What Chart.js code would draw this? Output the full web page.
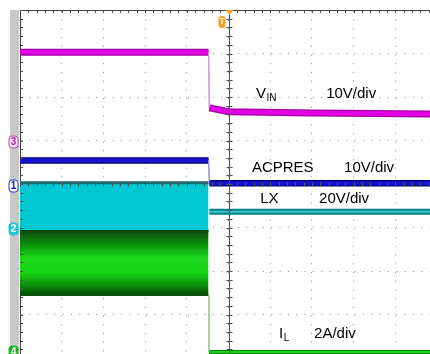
<!DOCTYPE html>
<html>
<head>
<meta charset="utf-8">
<script src="https://cdn.jsdelivr.net/npm/chart.js@4.4.0/dist/chart.umd.min.js"></script>
<style>
  html, body { margin: 0; padding: 0; background: #fff; }
  canvas { display: block; }
</style>
</head>
<body>
<canvas id="scope" width="430" height="354"></canvas>
<script>
// scope screen, all values in divisions measured from the centre of the graticule
var xTicks = [0, 1, 2, 3, 4, 5, 6, 7, 8, 9];
var yTicks = [-3, -2, -1, 0, 1, 2, 3, 4];

var vinTime  = [0, 4.52, 4.54, 5.0, 7.0, 9.83];
var vinLevel = [3.03, 3.03, 1.75, 1.66, 1.63, 1.61];

var acpresTime  = [0, 4.52, 4.54, 9.83];
var acpresLevel = [0.54, 0.54, 0.02, 0.02];

var lxOnTime   = [0, 4.52];
var lxTop      = [0.03, 0.03];
var lxBottom   = [-1.06, -1.06];
var lxOffTime  = [4.54, 9.83];
var lxOffLevel = [-0.64, -0.64];

var ilOnTime   = [0, 4.52];
var ilTop      = [-1.08, -1.08];
var ilBottom   = [-2.55, -2.55];
var ilOffTime  = [4.53, 4.53, 9.83];
var ilOffLevel = [-2.55, -3.86, -3.86];

var traceNames = ['V', 'ACPRES', 'LX', 'I'];
var traceSubs  = ['IN', '', '', 'L'];
var scaleTexts = ['10V/div', '10V/div', '20V/div', '2A/div'];

var channelIds    = ['3', '1', '2', '4'];
var channelGround = [0.97, -0.05, -1.03, -3.86];

function pts(t, v) {
  return t.map(function (x, i) { return {x: x, y: v[i]}; });
}

// the fast edges are drawn thin and pale, like on the scope
function stepSeg(width, color) {
  return {
    borderWidth: function (ctx) {
      return Math.abs(ctx.p1.parsed.x - ctx.p0.parsed.x) < 0.05 ? 1.2 : width;
    },
    borderColor: function (ctx) {
      return Math.abs(ctx.p1.parsed.x - ctx.p0.parsed.x) < 0.05 ? color : undefined;
    }
  };
}

function trace(data, color, width, stepColor) {
  return {
    data: data,
    showLine: true,
    borderColor: color,
    borderWidth: width,
    pointRadius: 0,
    fill: false,
    segment: stepSeg(width, stepColor)
  };
}

function ilGradient(ctx) {
  var chart = ctx.chart;
  if (!chart.chartArea) return '#10c010';
  var sy = chart.scales.y;
  var y0 = sy.getPixelForValue(ilTop[0]);
  var y1 = sy.getPixelForValue(ilBottom[0]);
  var g = chart.ctx.createLinearGradient(0, y0, 0, y1);
  g.addColorStop(0, '#0a4f0a');
  g.addColorStop(0.25, '#0a9c0a');
  g.addColorStop(0.42, '#1cd81c');
  g.addColorStop(0.65, '#16d416');
  g.addColorStop(0.86, '#0a8a0a');
  g.addColorStop(1, '#064a06');
  return g;
}

var scopeDecor = {
  id: 'scopeDecor',
  beforeDraw: function (chart) {
    var c = chart.ctx, a = chart.chartArea;
    c.save();
    c.fillStyle = '#c8c8c8';
    c.fillRect(a.left - 10, a.top, 9, a.bottom - a.top);
    c.restore();
  },
  afterDatasetsDraw: function (chart) {
    var c = chart.ctx, a = chart.chartArea;
    var sx = chart.scales.x, sy = chart.scales.y;
    var k, p;
    c.save();
    c.strokeStyle = '#505050';
    c.lineWidth = 1;
    c.beginPath();
    // ticks on the top and left border
    for (k = 0; k <= 50; k++) {
      p = Math.round(sx.getPixelForValue(k / 5)) + 0.5;
      if (p > a.right) break;
      c.moveTo(p, a.top); c.lineTo(p, a.top + 3);
    }
    for (k = 0; k <= 40; k++) {
      p = Math.round(sy.getPixelForValue(4 - k / 5)) + 0.5;
      if (p > a.bottom) break;
      c.moveTo(a.left, p); c.lineTo(a.left + 3, p);
    }
    // centre crosshair
    var cx = Math.round(sx.getPixelForValue(5)) + 0.5;
    var cy = Math.round(sy.getPixelForValue(0)) + 0.5;
    c.moveTo(cx, a.top); c.lineTo(cx, a.bottom);
    for (k = 0; k <= 40; k++) {
      p = Math.round(sy.getPixelForValue(4 - k / 5)) + 0.5;
      if (p > a.bottom) break;
      c.moveTo(cx - 3, p); c.lineTo(cx + 3, p);
    }
    for (k = 0; k <= 50; k++) {
      p = Math.round(sx.getPixelForValue(k / 5)) + 0.5;
      if (p > a.right) break;
      c.moveTo(p, cy - 2); c.lineTo(p, cy + 2);
    }
    c.stroke();
    c.restore();
  },
  afterDraw: function (chart) {
    var c = chart.ctx, a = chart.chartArea;
    var sx = chart.scales.x, sy = chart.scales.y;
    var o = chart.options.plugins.scopeDecor;
    c.save();

    // trace labels
    c.fillStyle = '#000';
    c.textBaseline = 'alphabetic';
    o.labels.forEach(function (l, i) {
      var x = sx.getPixelForValue(l.x), y = sy.getPixelForValue(l.y);
      c.font = '15px "Liberation Sans", Arial, sans-serif';
      c.fillText(traceNames[i], x, y);
      var w = c.measureText(traceNames[i]).width;
      if (traceSubs[i]) {
        c.font = '10px "Liberation Sans", Arial, sans-serif';
        c.fillText(traceSubs[i], x + w + 0.5, y + 3);
      }
      c.font = '15px "Liberation Sans", Arial, sans-serif';
      c.fillText(scaleTexts[i], sx.getPixelForValue(l.sx), y);
    });

    // channel ground markers on the left edge
    c.font = 'bold 10px "Liberation Sans", Arial, sans-serif';
    c.textAlign = 'center';
    c.textBaseline = 'middle';
    o.markers.forEach(function (m, i) {
      var y = Math.round(sy.getPixelForValue(channelGround[i]));
      var x = a.left - 11;
      c.beginPath();
      c.roundRect(x, y - 6, 9, 12, 3);
      c.fillStyle = m.fill;
      c.fill();
      c.strokeStyle = m.color;
      c.lineWidth = 1;
      c.stroke();
      c.fillStyle = m.text;
      c.fillText(channelIds[i], x + 4.5, y + 0.5);
    });

    // trigger position
    var tx = Math.round(sx.getPixelForValue(5)) + 0.5;
    c.fillStyle = '#f2a027';
    c.beginPath();
    c.moveTo(tx - 4, a.top);
    c.lineTo(tx + 4, a.top);
    c.lineTo(tx, a.top + 5);
    c.closePath();
    c.fill();
    c.beginPath();
    c.roundRect(tx - 11, a.top + 6, 7, 12, 3);
    c.fill();
    c.fillStyle = '#fff2c8';
    c.font = 'bold 9px "Liberation Sans", Arial, sans-serif';
    c.fillText('T', tx - 7.5, a.top + 12);
    c.restore();
  }
};

new Chart(document.getElementById('scope'), {
  type: 'scatter',
  data: {
    datasets: [
      trace(pts(vinTime, vinLevel), '#e400e4', 4.5, '#d996d9'),
      trace(pts(vinTime, vinLevel), '#a400a4', 7, '#d996d9'),
      trace(pts(acpresTime, acpresLevel), '#1414cc', 4, '#9a9ad8'),
      trace(pts(acpresTime, acpresLevel), '#000080', 6.5, '#9a9ad8'),
      trace(pts(lxOffTime, lxOffLevel), '#36c6cc', 2, '#36c6cc'),
      trace(pts(lxOffTime, lxOffLevel), '#00828a', 6, '#00828a'),
      {
        data: pts(lxOnTime, lxTop), showLine: true, pointRadius: 0,
        borderColor: '#1a6c6c', borderWidth: 3,
        backgroundColor: '#00c9d3', fill: '+1'
      },
      {
        data: pts(lxOnTime, lxBottom), showLine: true, pointRadius: 0,
        borderColor: '#00c9d3', borderWidth: 0, fill: false
      },
      trace(pts(ilOffTime, ilOffLevel), '#1ad41a', 2, '#9cc89c'),
      trace(pts(ilOffTime, ilOffLevel), '#0a800a', 4, '#9cc89c'),
      {
        data: pts(ilOnTime, ilTop), showLine: true, pointRadius: 0,
        borderColor: '#0c4a0c', borderWidth: 3,
        backgroundColor: ilGradient, fill: '+1'
      },
      {
        data: pts(ilOnTime, ilBottom), showLine: true, pointRadius: 0,
        borderColor: '#0a4e0a', borderWidth: 2, fill: false
      }
    ]
  },
  options: {
    responsive: false,
    devicePixelRatio: 1,
    animation: false,
    events: [],
    layout: { padding: { left: 20, top: 10, right: 0, bottom: 0 } },
    plugins: {
      legend: { display: false },
      tooltip: { enabled: false },
      scopeDecor: {
        labels: [
          { x: 5.66, sx: 7.34, y: 1.977 },
          { x: 5.56, sx: 7.77, y: 0.276 },
          { x: 5.76, sx: 7.17, y: -0.437 },
          { x: 6.21, sx: 7.05, y: -3.54 }
        ],
        markers: [
          { color: '#c040c0', fill: '#f4e4f4', text: '#b020b0' },
          { color: '#3030d0', fill: '#ffffff', text: '#2020c0' },
          { color: '#20c8d0', fill: '#20c8d0', text: '#ffffff' },
          { color: '#20b020', fill: '#20b020', text: '#ffffff' }
        ]
      }
    },
    scales: {
      x: {
        type: 'linear',
        position: 'top',
        min: 0,
        max: 9.83,
        afterBuildTicks: function (s) { s.ticks = xTicks.map(function (v) { return {value: v}; }); },
        ticks: { display: false },
        grid: { color: '#8c8c8c', lineWidth: 1, drawTicks: false },
        border: { display: true, color: '#404040', width: 1, dash: [1, 7.7] }
      },
      y: {
        type: 'linear',
        min: -3.908,
        max: 4,
        afterBuildTicks: function (s) { s.ticks = yTicks.map(function (v) { return {value: v}; }); },
        ticks: { display: false },
        grid: { color: '#8c8c8c', lineWidth: 1, drawTicks: false },
        border: { display: true, color: '#404040', width: 1, dash: [1, 7.34] }
      }
    }
  },
  plugins: [scopeDecor]
});
</script>
</body>
</html>
